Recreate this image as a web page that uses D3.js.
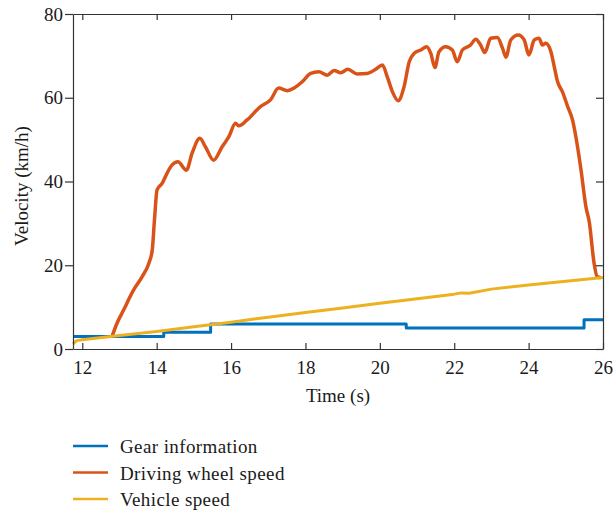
<!DOCTYPE html>
<html>
<head>
<meta charset="utf-8">
<script src="https://cdn.jsdelivr.net/npm/d3@7"></script>
<style>
  body { margin: 0; background: #fff; }
  svg text { font-family: "Liberation Serif", "Times New Roman", serif; fill: #1a1a1a; }
</style>
</head>
<body>
<div id="viz"></div>
<script>
const width = 613;
const height = 516;
const margin = {top: 14, right: 10, bottom: 167, left: 73};

const xTicks = [12, 14, 16, 18, 20, 22, 24, 26];
const yTicks = [0, 20, 40, 60, 80];

// Gear information (step signal)
const gearTime  = [11.75, 14.19, 15.45, 20.71, 25.49, 26];
const gearValue = [3, 4, 6, 5, 7, 7];

// Driving wheel speed
const wheelTime = [12.80, 12.93, 13.11, 13.38, 13.61, 13.79, 13.88, 13.94, 14.01, 14.15, 14.28, 14.41, 14.57,
  14.80, 14.95, 15.16, 15.31, 15.53, 15.76, 15.94, 16.12, 16.21, 16.43, 16.79, 17.06, 17.28, 17.51, 17.69,
  17.91, 18.14, 18.36, 18.59, 18.77, 18.95, 19.14, 19.39, 19.66, 19.89, 20.07, 20.20, 20.34, 20.49, 20.65,
  20.79, 20.92, 21.10, 21.26, 21.37, 21.48, 21.59, 21.77, 21.95, 22.08, 22.22, 22.44, 22.58, 22.71, 22.82,
  22.98, 23.16, 23.30, 23.39, 23.52, 23.72, 23.88, 24.01, 24.15, 24.28, 24.37, 24.46, 24.60, 24.69, 24.78,
  24.91, 25.05, 25.18, 25.27, 25.41, 25.54, 25.63, 25.76, 25.84, 25.94];
const wheelValue = [3.0, 6.1, 9.3, 14.1, 17.3, 20.5, 23.6, 30.8, 38.0, 39.6, 42.0, 43.9, 44.7,
  42.7, 46.7, 50.3, 48.3, 45.1, 48.3, 50.7, 53.9, 53.3, 54.7, 57.9, 59.5, 62.3, 61.7, 62.3,
  63.8, 65.8, 66.2, 65.4, 66.5, 66.0, 66.8, 65.7, 65.8, 66.8, 67.8, 65.0, 61.4, 59.3, 62.6,
  68.6, 70.6, 71.4, 72.2, 70.6, 67.2, 71.0, 72.2, 71.4, 68.6, 71.4, 72.6, 74.0, 72.6, 70.8,
  74.2, 74.4, 71.8, 69.7, 73.8, 75.0, 73.8, 70.2, 73.8, 74.2, 72.6, 73.0, 71.0, 67.4, 63.8,
  61.4, 57.9, 54.7, 50.7, 42.7, 34.0, 30.4, 20.5, 17.3, 17.0];

// Vehicle speed
const vehicleTime  = [11.75, 11.85, 12, 13, 14, 15, 16, 17, 18, 19, 20, 21, 22, 22.2, 22.4, 23, 24, 25, 26];
const vehicleValue = [1.2, 2.0, 2.2, 3.2, 4.2, 5.3, 6.4, 7.6, 8.7, 9.8, 10.9, 12.0, 13.1, 13.4, 13.3, 14.3, 15.3, 16.2, 17.1];

const series = [
  {label: 'Gear information', color: '#0072BD', t: gearTime, v: gearValue, curve: d3.curveStepAfter, w: 3},
  {label: 'Driving wheel speed', color: '#D95319', t: wheelTime, v: wheelValue, curve: d3.curveMonotoneX, w: 3.5},
  {label: 'Vehicle speed', color: '#EDB120', t: vehicleTime, v: vehicleValue, curve: d3.curveLinear, w: 3}
];

const x = d3.scaleLinear().domain([11.75, 26]).range([margin.left, 603]);
const y = d3.scaleLinear().domain([0, 80]).range([349, margin.top]);

const svg = d3.select('#viz').append('svg')
  .attr('width', width)
  .attr('height', height);

// lines
series.forEach(s => {
  const pts = s.t.map((t, i) => [t, s.v[i]]);
  const line = d3.line()
    .x(d => x(d[0]))
    .y(d => y(d[1]))
    .curve(s.curve);
  svg.append('path')
    .datum(pts)
    .attr('d', line)
    .attr('fill', 'none')
    .attr('stroke', s.color)
    .attr('stroke-width', s.w)
    .attr('stroke-linejoin', 'round');
});

const axisColor = '#333';

// bottom axis (ticks inward)
const xAxis = svg.append('g')
  .attr('transform', `translate(0,${y(0)})`)
  .call(d3.axisBottom(x).tickValues(xTicks).tickSizeInner(-6).tickSizeOuter(0).tickPadding(12));
// top (ticks inward, no labels)
const xTop = svg.append('g')
  .attr('transform', `translate(0,${y(80)})`)
  .call(d3.axisTop(x).tickValues(xTicks).tickSizeInner(-6).tickSizeOuter(0).tickFormat(''));
// left axis (ticks outward)
const yAxis = svg.append('g')
  .attr('transform', `translate(${x.range()[0]},0)`)
  .call(d3.axisLeft(y).tickValues(yTicks).tickSizeInner(8).tickSizeOuter(0).tickPadding(2));
// right (ticks inward)
const yRight = svg.append('g')
  .attr('transform', `translate(${x.range()[1]},0)`)
  .call(d3.axisRight(y).tickValues(yTicks).tickSizeInner(-7).tickSizeOuter(0).tickFormat(''));

[xAxis, xTop, yAxis, yRight].forEach(g => {
  g.selectAll('path').attr('stroke', axisColor).attr('stroke-width', 1.2);
  g.selectAll('line').attr('stroke', axisColor).attr('stroke-width', 1.2);
  g.selectAll('text').attr('fill', '#1a1a1a')
    .style('font-family', '"Liberation Serif", serif')
    .style('font-size', '19px');
});

// axis titles
svg.append('text')
  .attr('x', (x.range()[0] + x.range()[1]) / 2)
  .attr('y', 402)
  .attr('text-anchor', 'middle')
  .style('font-size', '19px')
  .text('Time (s)');

svg.append('text')
  .attr('transform', `translate(28,${186}) rotate(-90)`)
  .attr('text-anchor', 'middle')
  .style('font-size', '19px')
  .text('Velocity (km/h)');

// legend
const legend = svg.append('g').selectAll('g')
  .data(series)
  .join('g')
  .attr('transform', (d, i) => `translate(73,${446 + i * 26.5})`);
legend.append('line')
  .attr('x1', 0).attr('x2', 35)
  .attr('stroke', d => d.color)
  .attr('stroke-width', 2.5);
legend.append('text')
  .attr('x', 47)
  .attr('y', 7)
  .style('font-size', '19px')
  .style('letter-spacing', '0.4px')
  .text(d => d.label);
</script>
</body>
</html>
